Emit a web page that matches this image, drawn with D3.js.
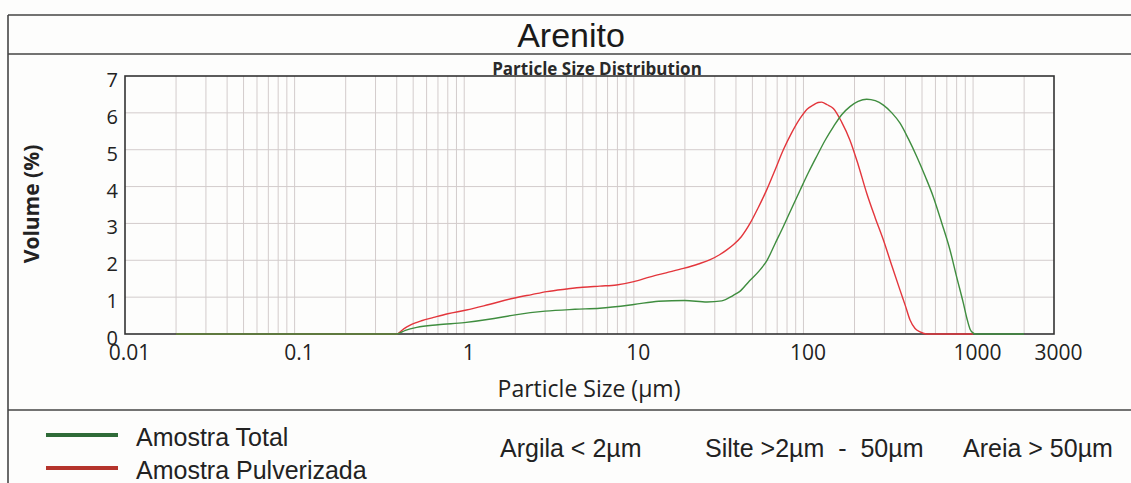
<!DOCTYPE html>
<html><head><meta charset="utf-8">
<script src="https://cdn.jsdelivr.net/npm/d3@7"></script>
<style>
html,body{margin:0;padding:0;background:#fdfdfc;}
svg{display:block;}
</style></head><body>
<svg id="chart" width="1131" height="483"></svg>
<script>
// Particle size distribution (laser diffraction) for the Arenito sample
const sizesTotal = [0.02, 0.40, 0.45, 0.525, 0.7, 1.0, 1.5, 2.0, 3.0, 4.5, 6.3, 10, 14, 20, 27, 33, 38.6, 42, 48, 55, 61, 68, 76, 85, 95.5, 107, 120, 134, 150, 168, 188, 210, 236, 265, 296, 332, 371, 415, 466, 522, 583, 655, 731, 800, 877, 920, 960, 1000, 1030, 2000];
const volumeTotal = [0, 0, 0.10, 0.18, 0.25, 0.31, 0.42, 0.52, 0.62, 0.67, 0.70, 0.80, 0.89, 0.91, 0.87, 0.90, 1.05, 1.15, 1.44, 1.72, 2.0, 2.45, 2.91, 3.40, 3.90, 4.38, 4.83, 5.25, 5.62, 5.95, 6.17, 6.31, 6.37, 6.33, 6.21, 6.0, 5.72, 5.30, 4.81, 4.28, 3.72, 3.0, 2.28, 1.55, 0.83, 0.42, 0.13, 0.03, 0, 0];

const sizesPulverizada = [0.02, 0.40, 0.44, 0.48, 0.56, 0.66, 0.8, 1.03, 1.4, 1.95, 2.5, 3.07, 4.0, 5.0, 6.3, 7.9, 10, 12.5, 15.5, 19.6, 24, 28, 32, 35, 38.6, 43, 48.4, 54, 60.7, 68, 76, 85, 95.5, 105, 114, 122, 128, 138, 150, 168, 188, 210, 236, 265, 296, 332, 371, 400, 425, 455, 487, 533, 1000];
const volumePulverizada = [0, 0, 0.14, 0.24, 0.36, 0.45, 0.55, 0.65, 0.80, 0.97, 1.07, 1.15, 1.22, 1.27, 1.30, 1.33, 1.42, 1.55, 1.66, 1.78, 1.90, 2.01, 2.15, 2.27, 2.42, 2.64, 3.0, 3.42, 3.91, 4.45, 4.99, 5.45, 5.85, 6.10, 6.21, 6.28, 6.29, 6.22, 6.12, 5.75, 5.26, 4.60, 3.82, 3.15, 2.55, 1.85, 1.19, 0.75, 0.38, 0.15, 0.06, 0, 0];

const xTickLabels = [0.01, 0.1, 1, 10, 100, 1000, 3000];
const yTickLabels = [0, 1, 2, 3, 4, 5, 6, 7];
const seriesNames = ["Amostra Total", "Amostra Pulverizada"];
const classLabels = ["Argila < 2µm", "Silte >2µm  -  50µm", "Areia > 50µm"];

const W = 1131, H = 483;
const plot = {left: 125, right: 1054, top: 76, bottom: 334};
const curveColors = ["#3f8d3f", "#e3363c"];
const legendColors = ["#2f6b38", "#b5342c"];

const svg = d3.select("#chart");

const x = d3.scaleLog().domain([0.01, 3000]).range([plot.left, plot.right]);
const y = d3.scaleLinear().domain([0, 7]).range([plot.bottom, plot.top]);

// frame around the figure
const frame = svg.append("g").attr("stroke", "#454545").attr("stroke-width", 1.6);
frame.append("line").attr("x1", 8).attr("x2", W).attr("y1", 15).attr("y2", 15);
frame.append("line").attr("x1", 8).attr("x2", W).attr("y1", 54).attr("y2", 54);
frame.append("line").attr("x1", 8).attr("x2", W).attr("y1", 410).attr("y2", 410);
frame.append("line").attr("x1", 8).attr("x2", 8).attr("y1", 15).attr("y2", H);

svg.append("text")
  .attr("x", 571).attr("y", 46.5)
  .attr("text-anchor", "middle")
  .attr("font-family", "'Liberation Sans', Arial, sans-serif")
  .attr("font-size", 34).attr("fill", "#1a1a1a")
  .text("Arenito");

svg.append("text")
  .attr("x", 597).attr("y", 75)
  .attr("text-anchor", "middle")
  .attr("font-family", "'Open Sans', sans-serif")
  .attr("font-weight", "bold")
  .attr("font-size", 17).attr("fill", "#2a2a2a")
  .text("Particle Size Distribution");

// grid
const grid = svg.append("g").attr("stroke", "#d3cccc").attr("stroke-width", 1);
grid.selectAll("line.vx").data(x.ticks().filter(v => v > 0.01 && v < 3000)).join("line")
  .attr("x1", d => x(d)).attr("x2", d => x(d))
  .attr("y1", plot.top).attr("y2", plot.bottom);
grid.selectAll("line.hy").data(yTickLabels.filter(v => v > 0 && v < 7)).join("line")
  .attr("x1", plot.left).attr("x2", plot.right)
  .attr("y1", d => y(d)).attr("y2", d => y(d));

// plot border
svg.append("rect")
  .attr("x", plot.left).attr("y", plot.top)
  .attr("width", plot.right - plot.left).attr("height", plot.bottom - plot.top)
  .attr("fill", "none").attr("stroke", "#333").attr("stroke-width", 1.6);

// axes (labels only; the grid carries the ticks)
const xAxis = svg.append("g")
  .attr("transform", `translate(4,${plot.bottom})`)
  .call(d3.axisBottom(x).tickValues(xTickLabels).tickSize(0).tickPadding(0)
    .tickFormat(d => String(d)));
xAxis.select(".domain").remove();
xAxis.selectAll("text")
  .attr("y", 26).attr("dy", 0)
  .attr("font-family", "'Open Sans', sans-serif")
  .attr("font-size", 21).attr("fill", "#222");

const yAxis = svg.append("g")
  .attr("transform", `translate(118,0)`)
  .call(d3.axisLeft(y).tickValues(yTickLabels).tickSize(0).tickPadding(0)
    .tickFormat(d3.format("d")));
yAxis.select(".domain").remove();
yAxis.selectAll("text")
  .attr("x", 0).attr("dy", 10.5)
  .attr("font-family", "'Open Sans', sans-serif")
  .attr("font-size", 20).attr("fill", "#222");

svg.append("text")
  .attr("transform", "translate(39,204) rotate(-90)")
  .attr("text-anchor", "middle")
  .attr("font-family", "'Open Sans', sans-serif")
  .attr("font-weight", "bold")
  .attr("font-size", 21).attr("fill", "#222")
  .text("Volume (%)");

svg.append("text")
  .attr("x", 589).attr("y", 397)
  .attr("text-anchor", "middle")
  .attr("font-family", "'Open Sans', sans-serif")
  .attr("font-size", 23).attr("fill", "#222")
  .text("Particle Size (µm)");

// distribution curves
const line = d3.line().x(d => x(d[0])).y(d => y(d[1])).curve(d3.curveMonotoneX);
const series = [
  {name: seriesNames[1], pts: d3.zip(sizesPulverizada, volumePulverizada), color: curveColors[1]},
  {name: seriesNames[0], pts: d3.zip(sizesTotal, volumeTotal), color: curveColors[0]}
];
svg.append("g").selectAll("path").data(series).join("path")
  .attr("d", d => line(d.pts))
  .attr("fill", "none")
  .attr("stroke", d => d.color)
  .attr("stroke-width", 1.4)
  .attr("stroke-linejoin", "round");

// legend
const legendLineY = [435, 468];
const lg = svg.append("g");
seriesNames.forEach((name, i) => {
  lg.append("line")
    .attr("x1", 46).attr("x2", 118)
    .attr("y1", legendLineY[i]).attr("y2", legendLineY[i])
    .attr("stroke", legendColors[i]).attr("stroke-width", 4);
  lg.append("text")
    .attr("x", 136).attr("y", legendLineY[i] + 10.5)
    .attr("font-family", "'Liberation Sans', Arial, sans-serif")
    .attr("font-size", 25).attr("fill", "#222")
    .text(name);
});

const classX = [500, 705, 963];
classLabels.forEach((t, i) => {
  svg.append("text")
    .attr("x", classX[i]).attr("y", 457)
    .attr("font-family", "'Liberation Sans', Arial, sans-serif")
    .attr("font-size", 25).attr("fill", "#222")
    .style("white-space", "pre")
    .attr("xml:space", "preserve")
    .text(t);
});
</script>
</body></html>
